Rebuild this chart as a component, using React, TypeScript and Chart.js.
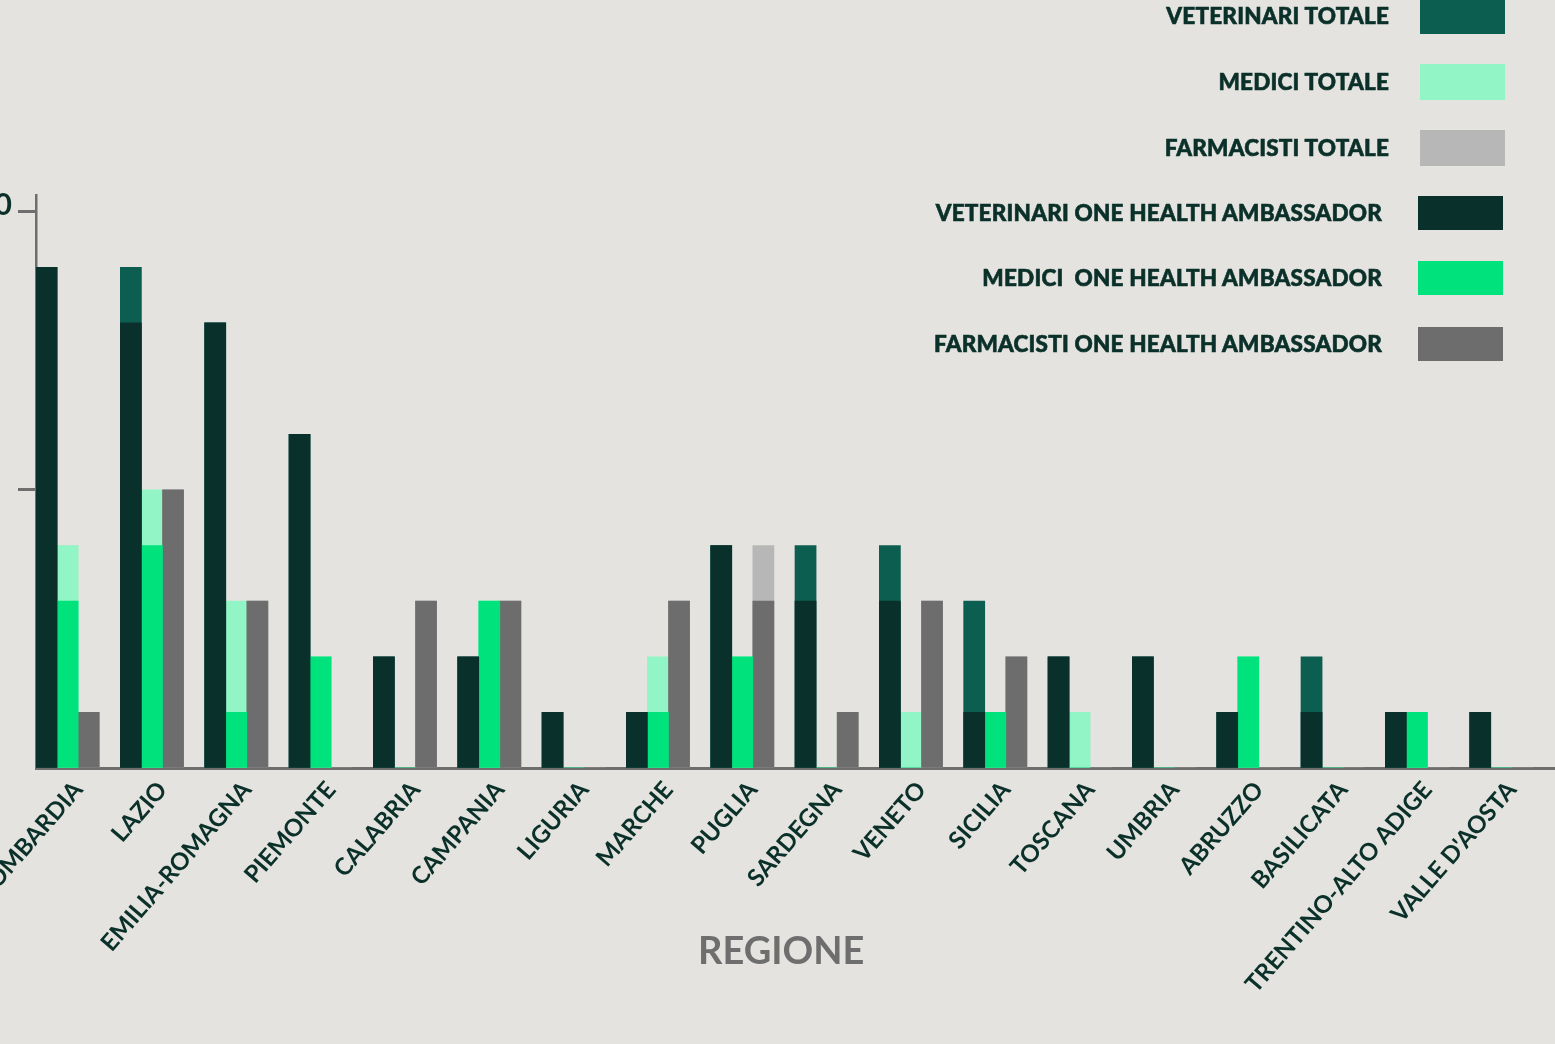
import React, { useEffect, useRef } from 'react';
import { Chart, registerables } from 'chart.js';

Chart.register(...registerables);

const categories = [
  'LOMBARDIA', 'LAZIO', 'EMILIA-ROMAGNA', 'PIEMONTE', 'CALABRIA', 'CAMPANIA',
  'LIGURIA', 'MARCHE', 'PUGLIA', 'SARDEGNA', 'VENETO', 'SICILIA', 'TOSCANA',
  'UMBRIA', 'ABRUZZO', 'BASILICATA', 'TRENTINO-ALTO ADIGE', "VALLE D'AOSTA",
];

const veterinariTotale = [9, 9, 8, 6, 2, 2, 1, 1, 4, 4, 4, 3, 2, 2, 1, 2, 1, 1];
const mediciTotale = [4, 5, 3, 2, 0, 3, 0, 2, 2, 0, 1, 1, 1, 0, 2, 0, 1, 0];
const farmacistiTotale = [1, 5, 3, 0, 3, 3, 0, 3, 4, 1, 3, 2, 0, 0, 0, 0, 0, 0];
const veterinariAmbassador = [9, 8, 8, 6, 2, 2, 1, 1, 4, 3, 3, 1, 2, 2, 1, 1, 1, 1];
const mediciAmbassador = [3, 4, 1, 2, 0, 3, 0, 1, 2, 0, 0, 1, 0, 0, 2, 0, 1, 0];
const farmacistiAmbassador = [1, 5, 3, 0, 3, 3, 0, 3, 3, 1, 3, 2, 0, 0, 0, 0, 0, 0];
// empty fourth slot in every group (the reference leaves a gap after each trio)
const emptySlot = [0, 0, 0, 0, 0, 0, 0, 0, 0, 0, 0, 0, 0, 0, 0, 0, 0, 0];

const yTickStep = 5;
const yMax = 10.3;

const BG = '#e4e3df';
const TEXT = '#0a3029';
const GRAY = '#6e6e6e';
const C_VET_TOT = '#0c5e50';
const C_MED_TOT = '#91f5c5';
const C_FARM_TOT = '#b7b7b7';
const C_VET_AMB = '#09302a';
const C_MED_AMB = '#00e37c';
const C_FARM_AMB = '#6d6d6d';

const legendItems = [
  { label: 'VETERINARI TOTALE', color: C_VET_TOT, kind: 'tot' },
  { label: 'MEDICI TOTALE', color: C_MED_TOT, kind: 'tot' },
  { label: 'FARMACISTI TOTALE', color: C_FARM_TOT, kind: 'tot' },
  { label: 'VETERINARI ONE HEALTH AMBASSADOR', color: C_VET_AMB, kind: 'amb' },
  { label: 'MEDICI  ONE HEALTH AMBASSADOR', color: C_MED_AMB, kind: 'amb' },
  { label: 'FARMACISTI ONE HEALTH AMBASSADOR', color: C_FARM_AMB, kind: 'amb' },
];

const FONT = 'Lato, "Open Sans", sans-serif';

export default function App() {
  const canvasRef = useRef<HTMLCanvasElement>(null);

  useEffect(() => {
    document.body.style.margin = '0';
    document.body.style.background = BG;
    const canvas = canvasRef.current;
    if (!canvas) return;
    Chart.defaults.font.family = FONT;

    const chart = new Chart(canvas, {
      type: 'bar',
      data: {
        labels: categories,
        datasets: [
          { label: 'VETERINARI ONE HEALTH AMBASSADOR', data: veterinariAmbassador, backgroundColor: C_VET_AMB, stack: 'vet', order: 0 },
          { label: 'MEDICI  ONE HEALTH AMBASSADOR', data: mediciAmbassador, backgroundColor: C_MED_AMB, stack: 'med', order: 0 },
          { label: 'FARMACISTI ONE HEALTH AMBASSADOR', data: farmacistiAmbassador, backgroundColor: C_FARM_AMB, stack: 'farm', order: 0 },
          { label: 'VETERINARI TOTALE', data: veterinariTotale, backgroundColor: C_VET_TOT, stack: 'vet', order: 1 },
          { label: 'MEDICI TOTALE', data: mediciTotale, backgroundColor: C_MED_TOT, stack: 'med', order: 1 },
          { label: 'FARMACISTI TOTALE', data: farmacistiTotale, backgroundColor: C_FARM_TOT, stack: 'farm', order: 1 },
          { label: '', data: emptySlot, backgroundColor: 'rgba(0,0,0,0)', stack: 'empty', order: 2 },
        ],
      },
      options: {
        animation: false,
        responsive: false,
        events: [],
        layout: { padding: { top: 195, left: 0, right: 1, bottom: 0 } },
        datasets: {
          bar: { categoryPercentage: 1, barPercentage: 1, borderWidth: 0 },
        },
        plugins: {
          legend: { display: false },
          tooltip: { enabled: false },
        },
        scales: {
          x: {
            stacked: true,
            grid: { display: false, drawTicks: false },
            border: { display: true, color: GRAY, width: 3 },
            ticks: {
              color: TEXT,
              font: { size: 24, weight: 'bold', family: FONT },
              minRotation: 49,
              maxRotation: 49,
              autoSkip: false,
              padding: 8,
            },
            title: {
              display: true,
              text: 'REGIONE\u00a0\u00a0\u00a0',
              color: GRAY,
              font: { size: 38, weight: 'bold', family: FONT },
              padding: { top: 0, bottom: 69 },
            },
            afterFit: (scale: any) => {
              scale.height = 276;
              scale.paddingLeft = 0;
              scale.paddingRight = 0;
            },
          },
          y: {
            stacked: false,
            min: 0,
            max: yMax,
            border: { display: true, color: GRAY, width: 2.5 },
            grid: {
              drawOnChartArea: false,
              drawTicks: true,
              tickLength: 18,
              tickWidth: 3,
              tickColor: (ctx: any) => (ctx.tick && ctx.tick.value === 0 ? 'rgba(0,0,0,0)' : GRAY),
            },
            ticks: {
              stepSize: yTickStep,
              includeBounds: false,
              crossAlign: 'far',
              color: TEXT,
              font: { size: 30, weight: 'bold', family: FONT },
              labelOffset: -6,
              padding: 6,
            },
            afterFit: (scale: any) => {
              scale.width = 59;
            },
          },
        },
      } as any,
    });
    return () => chart.destroy();
  }, []);

  const rowCenters = [16, 81.5, 148, 213, 278, 344];

  return (
    <div style={{ position: 'fixed', left: 0, top: 0, width: 1555, height: 1044, overflow: 'hidden', background: BG }}>
      <canvas
        ref={canvasRef}
        width={1578}
        height={1044}
        style={{ position: 'absolute', left: -23, top: 0, width: 1578, height: 1044 }}
      />
      {legendItems.map((it, i) => {
        const tot = it.kind === 'tot';
        const boxH = tot ? 36 : 34;
        const boxLeft = tot ? 1420 : 1418;
        const textRight = tot ? 1389 : 1382;
        const c = rowCenters[i];
        return (
          <React.Fragment key={it.label}>
            <div
              style={{
                position: 'absolute',
                right: 1555 - textRight,
                top: c - 15,
                height: 30,
                lineHeight: '30px',
                fontFamily: FONT,
                fontWeight: 900,
                fontSize: 22.5,
                letterSpacing: '0.2px',
                color: TEXT,
                WebkitTextStroke: `0.6px ${TEXT}`,
                whiteSpace: 'pre',
                textAlign: 'right',
              }}
            >
              {it.label}
            </div>
            <div
              style={{
                position: 'absolute',
                left: boxLeft,
                top: c - boxH / 2,
                width: 85,
                height: boxH,
                background: it.color,
              }}
            />
          </React.Fragment>
        );
      })}
    </div>
  );
}
